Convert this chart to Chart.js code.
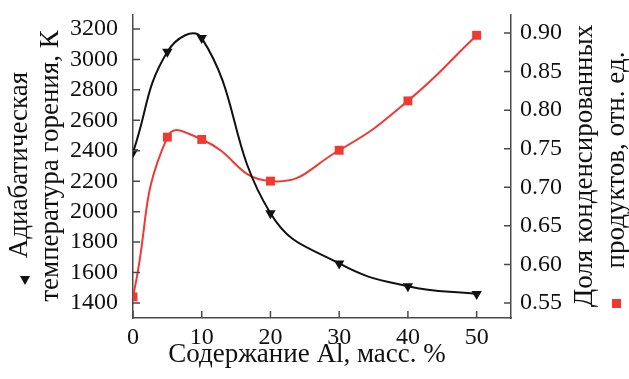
<!DOCTYPE html>
<html>
<head>
<meta charset="utf-8">
<script src="https://cdn.jsdelivr.net/npm/chart.js@4"></script>
<style>
  html, body { margin: 0; padding: 0; background: #fff; }
  #wrap { width: 629px; height: 379px; }
</style>
</head>
<body>
<div id="wrap"><canvas id="chart" width="629" height="379"></canvas></div>
<script>
// Al content, mass %
const alContent = [0, 5, 10, 20, 30, 40, 50];
// adiabatic combustion temperature, K (left axis)
const temperature = [2390, 3050, 3140, 1990, 1660, 1510, 1460];
// condensed products fraction (right axis)
const condensedShare = [0.558, 0.765, 0.762, 0.708, 0.748, 0.812, 0.897];

const xTicks = [0, 10, 20, 30, 40, 50];
const tempTicks = [1400, 1600, 1800, 2000, 2200, 2400, 2600, 2800, 3000, 3200];
const shareTicks = [0.55, 0.60, 0.65, 0.70, 0.75, 0.80, 0.85, 0.90];

const FONT = "'Liberation Serif', 'DejaVu Serif', serif";
const AXIS_COLOR = '#4a4a4a';
const RED = '#ee3a33';
const TICK_SIZE = 24;
const TITLE_SIZE = 27;

// inward tick marks + rotated axis titles
const decor = {
    id: 'decor',
    afterDraw(chart) {
        const { ctx, chartArea, scales } = chart;
        const len = 7;
        ctx.save();
        ctx.strokeStyle = AXIS_COLOR;
        ctx.lineWidth = 1.5;
        ctx.beginPath();
        xTicks.forEach(v => {
            const px = scales.x.getPixelForValue(v);
            ctx.moveTo(px, chartArea.bottom);
            ctx.lineTo(px, chartArea.bottom - len);
        });
        tempTicks.forEach(v => {
            const py = scales.yT.getPixelForValue(v);
            ctx.moveTo(chartArea.left, py);
            ctx.lineTo(chartArea.left + len, py);
        });
        shareTicks.forEach(v => {
            const py = scales.yS.getPixelForValue(v);
            ctx.moveTo(chartArea.right, py);
            ctx.lineTo(chartArea.right - len, py);
        });
        ctx.stroke();

        ctx.fillStyle = '#111';
        ctx.font = `${TITLE_SIZE}px ${FONT}`;
        ctx.textAlign = 'center';
        ctx.textBaseline = 'middle';

        // x title
        ctx.fillText('Содержание Al, масс. %', 307, 355);

        const vtext = (txt, x, y) => {
            ctx.save();
            ctx.translate(x, y);
            ctx.rotate(-Math.PI / 2);
            ctx.fillText(txt, 0, 0);
            ctx.restore();
        };
        vtext('Адиабатическая', 20, 165);
        vtext('температура горения, К', 51, 166);
        vtext('Доля конденсированных', 585, 166);
        vtext('продуктов, отн. ед.', 617, 160);

        // legend marks next to the titles
        ctx.beginPath();
        ctx.moveTo(20, 276);
        ctx.lineTo(30, 276);
        ctx.lineTo(25, 285);
        ctx.closePath();
        ctx.fill();
        ctx.fillStyle = RED;
        ctx.fillRect(612, 299, 9, 9);
        ctx.restore();
    }
};

const noPad = s => { s.paddingTop = 0; s.paddingBottom = 0; s.paddingLeft = 0; s.paddingRight = 0; };

new Chart(document.getElementById('chart'), {
    type: 'scatter',
    data: {
        datasets: [{
            label: 'temperature',
            data: alContent.map((x, i) => ({ x, y: temperature[i] })),
            yAxisID: 'yT',
            showLine: true,
            borderColor: '#111',
            backgroundColor: '#111',
            borderWidth: 2,
            tension: 0.45,
            pointStyle: 'triangle',
            rotation: 180,
            pointRadius: 6,
            pointBorderWidth: 0,
        }, {
            label: 'share',
            data: alContent.map((x, i) => ({ x, y: condensedShare[i] })),
            yAxisID: 'yS',
            showLine: true,
            borderColor: RED,
            backgroundColor: RED,
            borderWidth: 2,
            tension: 0.5,
            pointStyle: 'rect',
            pointRadius: 6.3,
            pointBorderWidth: 0,
        }],
    },
    options: {
        responsive: false,
        animation: false,
        layout: { padding: { top: 15, left: 0, right: 0, bottom: 0 } },
        plugins: {
            legend: { display: false },
            tooltip: { enabled: false },
        },
        scales: {
            x: {
                type: 'linear',
                min: 0,
                max: 55,
                grid: { display: false, drawTicks: false },
                border: { display: true, color: AXIS_COLOR, width: 1.5 },
                afterBuildTicks: s => { s.ticks = xTicks.map(v => ({ value: v })); },
                afterFit: s => { s.height = 61; noPad(s); },
                ticks: {
                    color: '#111',
                    font: { family: FONT, size: TICK_SIZE },
                    padding: 5,
                    maxRotation: 0,
                    callback: v => String(v),
                },
            },
            yT: {
                position: 'left',
                min: 1301.6,
                max: 3291.8,
                grid: { display: false, drawTicks: false },
                border: { display: true, color: AXIS_COLOR, width: 1.5 },
                afterBuildTicks: s => { s.ticks = tempTicks.map(v => ({ value: v })); },
                afterFit: s => { s.width = 133; noPad(s); },
                ticks: {
                    color: '#111',
                    font: { family: FONT, size: TICK_SIZE },
                    padding: 15,
                    callback: v => String(v),
                },
            },
            yS: {
                position: 'right',
                min: 0.5306,
                max: 0.9233,
                grid: { display: false, drawTicks: false },
                border: { display: true, color: AXIS_COLOR, width: 1.5 },
                afterBuildTicks: s => { s.ticks = shareTicks.map(v => ({ value: v })); },
                afterFit: s => { s.width = 118; noPad(s); },
                ticks: {
                    color: '#111',
                    font: { family: FONT, size: TICK_SIZE },
                    padding: 9,
                    callback: v => v.toFixed(2),
                },
            },
        },
    },
    plugins: [decor],
});
</script>
</body>
</html>
